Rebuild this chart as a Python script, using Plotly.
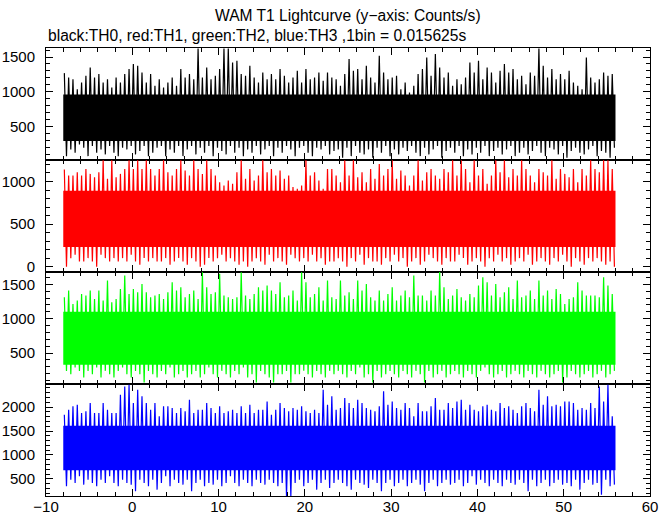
import numpy as np
import plotly.graph_objects as go
from plotly.subplots import make_subplots

t_start = -8.0
t_stop = 56.0
bin_width = 0.5

th0_high = [1268, 1205, 1181, 1037, 1133, 1229, 1350, 1205, 1254, 1133,
            1181, 1061, 1205, 1133, 1254, 1326, 1398, 1374, 1278, 1133,
            1254, 1085, 1181, 1061, 1133, 1205, 1085, 1326, 1205, 1254,
            1181, 1624, 1205, 1350, 1181, 1229, 1326, 1624, 1624, 1422,
            1446, 1254, 1229, 1374, 1205, 1133, 1278, 1181, 1254, 1181,
            1326, 1229, 1133, 1205, 1302, 1133, 1326, 1181, 1205, 1278,
            1157, 1278, 1205, 1181, 1085, 1254, 1470, 1302, 1326, 1181,
            1374, 1205, 1133, 1518, 1278, 1181, 1205, 1229, 1037, 1133,
            989, 1085, 1254, 1326, 1494, 1229, 1543, 1350, 1205, 1278,
            1085, 1181, 1109, 1205, 1422, 1278, 1446, 1181, 1350, 1278,
            1133, 1302, 1398, 1278, 1326, 1181, 1229, 1109, 1278, 1229,
            1624, 1374, 1205, 1326, 1181, 1254, 1181, 1302, 1133, 1085,
            1037, 1494, 1205, 1133, 1181, 1278, 1229, 1254]
th0_low = [73, 170, 122, 242, 194, 73, 218, 122, 170, 98,
           218, 122, 73, 194, 170, 218, 98, 146, 218, 73,
           122, 194, 218, 73, 170, 122, 218, 73, 170, 218,
           98, 194, 122, 218, 73, 194, 146, 98, 218, 122,
           194, 73, 170, 122, 218, 98, 170, 218, 73, 194,
           122, 218, 170, 73, 194, 218, 122, 73, 194, 170,
           218, 98, 146, 170, 49, 194, 73, 218, 122, 98,
           170, 49, 194, 122, 218, 73, 170, 98, 194, 146,
           218, 122, 73, 194, 98, 170, 218, 49, 146, 194,
           122, 218, 73, 170, 98, 194, 122, 218, 73, 146,
           194, 98, 170, 218, 73, 122, 194, 98, 146, 218,
           122, 73, 194, 170, 98, 218, 49, 146, 194, 122,
           98, 170, 218, 73, 146, 122, 49, 194]

th1_high = [1140, 1070, 1070, 1109, 1070, 1147, 1089, 1050, 1109, 1250,
            1031, 1250, 1050, 1089, 1147, 1250, 1147, 1250, 1147, 1250,
            1147, 1070, 1147, 1250, 1109, 1070, 1147, 1250, 1128, 1070,
            1250, 1147, 1089, 1250, 1147, 1070, 992, 954, 1012, 973,
            1109, 1250, 1031, 1147, 1012, 1070, 1250, 1109, 1147, 1070,
            1128, 1031, 1070, 934, 915, 954, 1250, 1070, 1109, 1012,
            915, 1147, 1147, 1070, 992, 1250, 1070, 1250, 1050, 1109,
            992, 1147, 1031, 1206, 1070, 1147, 1250, 1031, 1128, 1070,
            954, 1070, 1250, 1012, 1109, 1147, 1070, 1031, 1147, 1109,
            1250, 1070, 1250, 1147, 992, 1250, 1070, 1147, 973, 1070,
            1250, 1109, 1250, 1050, 1147, 1070, 1250, 1147, 1070, 992,
            1147, 1109, 1070, 1250, 1031, 1147, 1089, 1050, 1147, 992,
            1147, 1070, 1250, 1147, 1109, 1250, 1250, 1147]
th1_low = [0, 101, 140, 62, 62, 101, 62, 0, 140, 101,
           62, 101, 62, 101, 62, 140, 62, 23, 101, 62,
           101, 62, 62, 101, 23, 62, 101, 62, 23, 101,
           62, 0, 23, 101, 62, 101, 140, 62, 101, 62,
           23, 62, 0, 62, 101, 62, 23, 140, 62, 101,
           62, 23, 140, 101, 62, 101, 62, 140, 62, 101,
           23, 62, 62, 101, 62, 0, 101, 62, 140, 23,
           101, 62, 62, 23, 101, 62, 140, 62, 101, 0,
           62, 101, 23, 62, 140, 101, 62, 23, 101, 62,
           62, 140, 101, 23, 62, 101, 62, 0, 101, 62,
           140, 62, 101, 23, 62, 101, 62, 140, 23, 62,
           101, 62, 23, 101, 62, 140, 62, 0, 101, 62,
           23, 101, 62, 101, 62, 23, 62, 0]

th2_high = [1311, 1408, 1213, 1262, 1359, 1335, 1408, 1286, 1408, 1262,
            1554, 1238, 1286, 1432, 1627, 1359, 1432, 1384, 1505, 1384,
            1311, 1335, 1359, 1286, 1384, 1529, 1408, 1456, 1311, 1359,
            1408, 1286, 1675, 1456, 1359, 1384, 1651, 1335, 1311, 1286,
            1311, 1675, 1335, 1286, 1359, 1456, 1408, 1481, 1408, 1359,
            1529, 1311, 1335, 1408, 1262, 1675, 1529, 1311, 1359, 1456,
            1262, 1554, 1311, 1286, 1554, 1335, 1384, 1286, 1554, 1408,
            1505, 1311, 1262, 1408, 1262, 1359, 1456, 1262, 1335, 1408,
            1311, 1627, 1335, 1335, 1262, 1408, 1335, 1690, 1456, 1286,
            1335, 1432, 1311, 1262, 1359, 1311, 1481, 1602, 1529, 1335,
            1505, 1311, 1384, 1456, 1286, 1554, 1311, 1335, 1408, 1286,
            1554, 1335, 1408, 1286, 1432, 1359, 1213, 1286, 1311, 1529,
            1408, 1335, 1335, 1335, 1311, 1602, 1481, 1359]
th2_low = [241, 193, 290, 241, 144, 241, 193, 290, 144, 241,
           193, 144, 241, 290, 193, 144, 241, 193, 71, 241,
           193, 144, 241, 193, 290, 144, 193, 241, 144, 193,
           241, 144, 193, 290, 193, 144, 241, 193, 144, 241,
           193, 290, 144, 193, 71, 241, 193, 144, 71, 193,
           193, 241, 71, 193, 193, 241, 193, 144, 241, 193,
           144, 241, 193, 241, 193, 144, 241, 193, 290, 144,
           193, 71, 241, 144, 193, 241, 193, 144, 241, 193,
           144, 241, 193, 71, 241, 144, 193, 241, 144, 193,
           241, 193, 144, 241, 193, 144, 241, 290, 193, 144,
           193, 241, 144, 193, 241, 193, 144, 241, 193, 144,
           241, 193, 144, 193, 241, 71, 144, 241, 193, 144,
           193, 241, 144, 193, 241, 144, 193, 241]

th3_high = [1840, 1945, 2014, 2049, 1875, 1910, 2084, 1875, 1875, 2084,
            1945, 1875, 1875, 2257, 2431, 2466, 2084, 2362, 2223, 2084,
            1945, 2084, 1806, 2014, 2014, 1979, 1875, 1979, 1910, 2153,
            1875, 1945, 1945, 2084, 1979, 1875, 2014, 1875, 1910, 1945,
            1875, 2014, 1875, 2049, 1875, 1945, 1945, 2118, 1840, 1945,
            2084, 1979, 1910, 1979, 1945, 2014, 1910, 1875, 1945, 1875,
            2362, 2049, 2223, 1945, 1979, 2188, 2084, 1979, 2153, 2084,
            1979, 1945, 1910, 2014, 2327, 2049, 2118, 1979, 1945, 2084,
            1979, 1806, 2084, 1910, 1910, 2014, 2188, 1945, 1945, 2084,
            1979, 2118, 2153, 1945, 2049, 1945, 1910, 2014, 2049, 1945,
            1910, 2084, 1979, 2014, 1945, 1875, 2014, 2084, 1979, 1910,
            2362, 2049, 2223, 2014, 2049, 2014, 2118, 2118, 2084, 1945,
            1979, 1945, 2084, 1979, 2431, 2118, 2466, 1806]
th3_low = [346, 485, 416, 555, 381, 485, 416, 346, 485, 416,
           555, 416, 346, 485, 416, 381, 242, 485, 416, 346,
           485, 277, 416, 555, 346, 485, 416, 381, 485, 242,
           416, 485, 346, 416, 381, 485, 346, 416, 555, 416,
           346, 485, 416, 346, 485, 416, 381, 485, 416, 346,
           416, 138, 138, 416, 485, 346, 416, 485, 277, 416,
           485, 311, 416, 485, 416, 346, 277, 485, 416, 381,
           311, 485, 416, 242, 416, 485, 346, 416, 485, 346,
           416, 485, 381, 242, 416, 485, 346, 416, 485, 381,
           416, 485, 346, 416, 555, 381, 485, 416, 346, 485,
           416, 346, 485, 416, 381, 485, 416, 242, 485, 346,
           416, 485, 346, 416, 485, 381, 416, 346, 485, 277,
           416, 485, 381, 416, 172, 485, 346, 381]

# dense central band of each light curve (bulk of the bins)
core_low = [290, 230, 330, 680]
core_high = [960, 890, 1100, 1610]

channels = ["TH0", "TH1", "TH2", "TH3"]
highs = [th0_high, th1_high, th2_high, th3_high]
lows = [th0_low, th1_low, th2_low, th3_low]
colors = ["#000000", "#ff0000", "#00ff00", "#0000ff"]
y_ranges = [[17, 1630], [-62, 1252], [50, 1678], [144, 2481]]

FONT = "Liberation Sans, Arial, Helvetica, sans-serif"

fig = make_subplots(rows=4, cols=1, shared_xaxes=True, vertical_spacing=0)

for k in range(4):
    hi = np.array(highs[k], dtype=float)
    lo = np.array(lows[k], dtype=float)
    n = len(hi)
    centers = t_start + bin_width * (np.arange(n) + 0.5)
    # polyline alternating between each segment's maximum and minimum
    xs = np.column_stack([centers - bin_width / 4, centers + bin_width / 4]).ravel()
    ys = np.column_stack([hi, lo]).ravel()
    # central band
    fig.add_trace(go.Scatter(
        x=[t_start, t_stop, t_stop, t_start, t_start],
        y=[core_low[k], core_low[k], core_high[k], core_high[k], core_low[k]],
        mode="lines", fill="toself", fillcolor=colors[k],
        line=dict(color=colors[k], width=0), hoverinfo="skip",
        name=channels[k]), row=k + 1, col=1)
    fig.add_trace(go.Scatter(
        x=xs, y=ys, mode="lines", line=dict(color=colors[k], width=1.2),
        name=channels[k]), row=k + 1, col=1)

axis_common = dict(showline=True, linecolor="black", linewidth=1, mirror="ticks",
                   ticks="inside", ticklen=7, tickwidth=1, tickcolor="black",
                   showgrid=False, zeroline=False,
                   tickfont=dict(family=FONT, size=15, color="black"))

for k in range(4):
    fig.update_xaxes(range=[-10, 60], dtick=10, tick0=0,
                     minor=dict(dtick=2, ticks="inside", ticklen=4, tickcolor="black", showgrid=False),
                     ticklabelstandoff=-3,
                     row=k + 1, col=1, **axis_common)
    fig.update_yaxes(range=y_ranges[k], dtick=500, tick0=0,
                     minor=dict(dtick=100, ticks="inside", ticklen=4, tickcolor="black", showgrid=False),
                     ticklabelstandoff=7,
                     row=k + 1, col=1, **axis_common)

fig.update_layout(
    width=672, height=515,
    margin=dict(l=46, r=22, t=48, b=19, autoexpand=False),
    paper_bgcolor="white", plot_bgcolor="white",
    showlegend=False, hovermode=False,
    font=dict(family=FONT, size=15.6, color="black"),
    annotations=[
        dict(text="WAM T1 Lightcurve (y\u2212axis: Counts/s)", x=0.5, y=1.073,
             xref="paper", yref="paper", xanchor="center", yanchor="middle",
             showarrow=False, font=dict(family=FONT, size=15.6, color="black")),
        dict(text="black:TH0, red:TH1, green:TH2, blue:TH3 ,1bin = 0.015625s", x=0.0, y=1.028,
             xref="paper", yref="paper", xanchor="left", yanchor="middle",
             showarrow=False, font=dict(family=FONT, size=15.6, color="black")),
    ],
)

fig.write_html("out.html",
               config={"displayModeBar": False, "staticPlot": True},
               post_script="document.body.style.margin='0px';document.body.style.padding='0px';")
